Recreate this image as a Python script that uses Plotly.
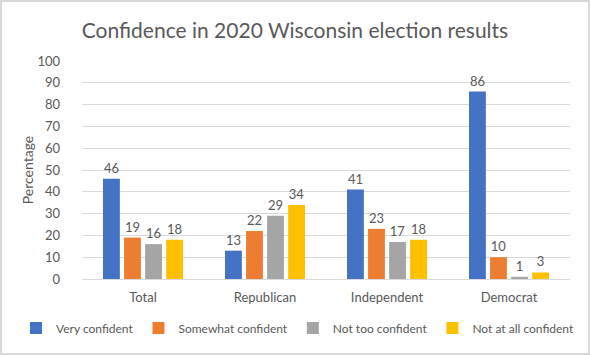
import plotly.graph_objects as go

categories = ["Total", "Republican", "Independent", "Democrat"]
series_names = ["Very confident", "Somewhat confident", "Not too confident", "Not at all confident"]
very_confident = [46, 13, 41, 86]
somewhat_confident = [19, 22, 23, 10]
not_too_confident = [16, 29, 17, 1]
not_at_all_confident = [18, 34, 18, 3]
y_ticks = [0, 10, 20, 30, 40, 50, 60, 70, 80, 90, 100]

colors = ["#4472C4", "#ED7D31", "#A5A5A5", "#FFC000"]
values = [very_confident, somewhat_confident, not_too_confident, not_at_all_confident]

FONT = "Lato"
W, H = 590, 355
L, R, T, B = 82, 20, 61, 76

fig = go.Figure()
for name, vals, c in zip(series_names, values, colors):
    fig.add_trace(go.Bar(
        x=categories, y=vals, name=name, marker_color=c, marker_line_width=0,
        text=[str(v) for v in vals], textposition="outside",
        textfont=dict(family=FONT, size=13, color="#595959"),
        cliponaxis=False,
    ))

pw = W - L - R
ph = H - T - B
fig.update_layout(
    width=W, height=H,
    margin=dict(l=L, r=R, t=T, b=B, autoexpand=False),
    paper_bgcolor="white", plot_bgcolor="white",
    barmode="group", bargap=0.31, bargroupgap=0.2,
    title=dict(text="Confidence in 2020 Wisconsin election results",
               x=0.5, xanchor="center", y=1 - 31 / H, yanchor="middle",
               font=dict(family=FONT, size=21, color="#595959")),
    font=dict(family=FONT, color="#595959"),
    showlegend=True,
    legend=dict(orientation="h", x=(16 - L) / pw, xanchor="left",
                y=-(328 - (T + ph)) / ph, yanchor="middle",
                font=dict(family=FONT, size=12, color="#595959"),
                itemwidth=30, tracegroupgap=0),
    xaxis=dict(showgrid=False, showline=True, linecolor="#D9D9D9", linewidth=1, automargin=False,
               tickfont=dict(family=FONT, size=13, color="#595959"), ticks="", ticklabelstandoff=6),
    yaxis=dict(range=[0, 100], tickvals=y_ticks, showgrid=True, gridcolor="#D9D9D9", automargin=False,
               zeroline=False, tickfont=dict(family=FONT, size=13, color="#595959"), ticklabelstandoff=21,
               title=dict(text="Percentage", font=dict(family=FONT, size=14, color="#595959"), standoff=0)),
    shapes=[dict(type="rect", xref="paper", yref="paper",
                 x0=-(L - 1) / pw, x1=1 + (R - 1) / pw,
                 y0=-(B - 1) / ph, y1=1 + (T - 1) / ph,
                 line=dict(color="#D9D9D9", width=2), layer="below")],
)

fig.write_html("out.html", config={"displayModeBar": False},
               post_script="document.body.style.margin='0';document.body.style.overflow='hidden';")
